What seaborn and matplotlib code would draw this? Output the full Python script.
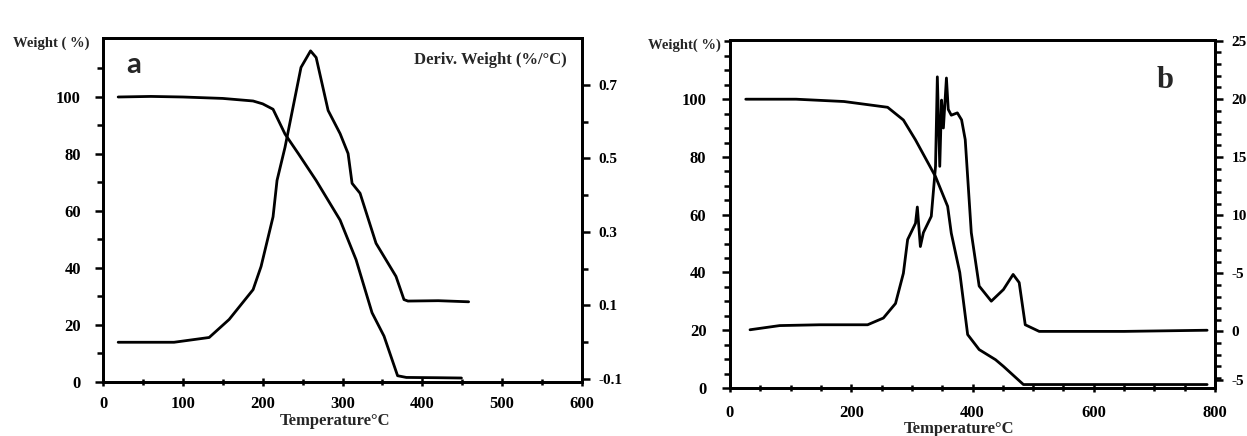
import numpy as np
import matplotlib
matplotlib.use("Agg")
import matplotlib.pyplot as plt
import seaborn as sns
from matplotlib.ticker import MultipleLocator, FixedLocator

# ---- data ----
# panel a: TG curve (weight %)
a_tg_temp = [19, 60, 100, 150, 188, 200, 213, 228, 245, 267, 297, 317, 337, 352, 369, 380, 420, 449]
a_tg_wt = [100, 100.2, 100, 99.5, 98.6, 97.6, 95.7, 87, 80, 70.7, 56.8, 42.9, 24.3, 16.1, 2.2, 1.6, 1.5, 1.4]
# panel a: DTG curve (deriv. weight %/C)
a_dtg_temp = [19, 60, 89, 133, 158, 188, 198, 213, 218, 228, 248, 260, 267, 282, 297,
              307, 312, 322, 342, 367, 377, 382, 420, 458]
a_dtg_val = [0.0, 0.0, 0.0, 0.013, 0.062, 0.143, 0.206, 0.341, 0.44, 0.53, 0.747, 0.792, 0.774,
             0.63, 0.567, 0.513, 0.432, 0.405, 0.269, 0.179, 0.116, 0.112, 0.113, 0.11]

# panel b: TG curve (weight %)
b_tg_temp = [26, 109, 188, 260, 286, 306, 339, 359, 365, 379, 392, 411, 438, 451, 484, 600, 787]
b_tg_wt = [100, 100, 99.2, 97.2, 92.8, 85.9, 73.2, 62.9, 53.6, 40, 18.5, 13.3, 9.8, 7.5, 1.2, 1.2, 1.2]
# panel b: DTG curve
b_dtg_temp = [33, 82, 148, 227, 253, 273, 286, 293, 306, 309, 314, 319, 332, 339, 342, 346, 349,
              352, 357, 360, 365, 375, 382, 388, 398, 411, 431, 451, 467, 477, 487, 510, 650, 787]
b_dtg_val = [0.14, 0.5, 0.57, 0.57, 1.15, 2.4, 5.0, 7.9, 9.3, 10.7, 7.3, 8.5, 9.9, 14.2, 21.9, 14.2,
             19.9, 17.5, 21.8, 19.1, 18.6, 18.8, 18.2, 16.5, 8.5, 3.9, 2.6, 3.6, 4.9, 4.2, 0.57, 0.0, 0.0, 0.1]
b_right_ticks = [-4.2, 0, 5, 10, 15, 20, 25]
b_right_labels = ["-5", "0", "-5", "10", "15", "20", "25"]

sns.set_style("ticks")
plt.rcParams["font.family"] = ["Liberation Serif", "DejaVu Serif"]
plt.rcParams["font.weight"] = "bold"

fig = plt.figure(figsize=(12.47, 4.36), dpi=100)
W, H = 1247, 436


def box(x0, y0, x1, y1):
    return [x0 / W, 1 - y1 / H, (x1 - x0) / W, (y1 - y0) / H]


def style(ax):
    for s in ax.spines.values():
        s.set_linewidth(2)
        s.set_color("black")
    ax.tick_params(axis="both", which="both", colors="black", labelsize=12, width=1.8, pad=6)
    ax.tick_params(axis="both", which="major", length=6)
    ax.tick_params(axis="both", which="minor", length=4)
    for lab in ax.get_xticklabels() + ax.get_yticklabels():
        lab.set_fontweight("bold")


lw = 2.0

# ---------- panel a ----------
ax = fig.add_axes(box(103, 38, 582, 382))
sns.lineplot(x=a_tg_temp, y=a_tg_wt, ax=ax, color="black", lw=lw, sort=False, estimator=None)
ax.set_xlim(0, 600)
ax.set_ylim(0, 120.7)
ax.xaxis.set_major_locator(MultipleLocator(100))
ax.xaxis.set_minor_locator(MultipleLocator(50))
ax.yaxis.set_major_locator(FixedLocator([0, 20, 40, 60, 80, 100]))
ax.yaxis.set_minor_locator(FixedLocator([10, 30, 50, 70, 90, 110]))
ax.set_xlabel("")
ax.set_ylabel("")
style(ax)
ax.tick_params(axis="x", which="both", direction="inout", pad=7)
ax.tick_params(axis="y", which="both", pad=10)

ax2 = ax.twinx()
sns.lineplot(x=a_dtg_temp, y=a_dtg_val, ax=ax2, color="black", lw=lw, sort=False, estimator=None)
ax2.set_ylim(-0.108, 0.827)
ax2.yaxis.set_major_locator(FixedLocator([-0.1, 0.1, 0.3, 0.5, 0.7]))
ax2.yaxis.set_minor_locator(FixedLocator([0.0, 0.2, 0.4, 0.6]))
ax2.set_yticklabels(["-0.1", "0.1", "0.3", "0.5", "0.7"])
ax2.set_ylabel("")
style(ax2)
ax2.tick_params(axis="y", which="major", labelsize=11)

fig.text(13 / W, 1 - 43 / H, "Weight ( %)", fontsize=10.5, fontweight="bold", va="center", ha="left")
fig.text(134 / W, 1 - 65 / H, "a", fontsize=21, fontweight="bold", va="center", ha="center",
         family=["Lato", "DejaVu Sans"])
fig.text(567 / W, 1 - 60 / H, "Deriv. Weight (%/°C)", fontsize=12, fontweight="bold",
         va="center", ha="right")
fig.text(335 / W, 1 - 421 / H, "Temperature°C", fontsize=12, fontweight="bold", va="center", ha="center")

# ---------- panel b ----------
bx = fig.add_axes(box(730, 40, 1215, 388))
sns.lineplot(x=b_tg_temp, y=b_tg_wt, ax=bx, color="black", lw=lw, sort=False, estimator=None)
bx.set_xlim(0, 800)
bx.set_ylim(0, 120.5)
bx.xaxis.set_major_locator(MultipleLocator(200))
bx.xaxis.set_minor_locator(MultipleLocator(50))
bx.yaxis.set_major_locator(FixedLocator([0, 20, 40, 60, 80, 100]))
bx.yaxis.set_minor_locator(MultipleLocator(5))
bx.set_xlabel("")
bx.set_ylabel("")
style(bx)
bx.tick_params(axis="x", which="both", direction="inout", pad=9)
bx.tick_params(axis="y", which="both", pad=11)

bx2 = bx.twinx()
sns.lineplot(x=b_dtg_temp, y=b_dtg_val, ax=bx2, color="black", lw=lw, sort=False, estimator=None)
bx2.set_ylim(-4.87, 25.07)
bx2.yaxis.set_major_locator(FixedLocator(b_right_ticks))
bx2.yaxis.set_minor_locator(MultipleLocator(1))
bx2.set_yticklabels(b_right_labels)
bx2.set_ylabel("")
style(bx2)
bx2.tick_params(axis="y", which="major", labelsize=11)

fig.text(648 / W, 1 - 45 / H, "Weight( %)", fontsize=10.5, fontweight="bold", va="center", ha="left")
fig.text(1165 / W, 1 - 80 / H, "b", fontsize=22, va="center", ha="center", fontweight="bold")
fig.text(959 / W, 1 - 429 / H, "Temperature°C", fontsize=12, fontweight="bold", va="center", ha="center")

fig.savefig("out.png", dpi=100)
